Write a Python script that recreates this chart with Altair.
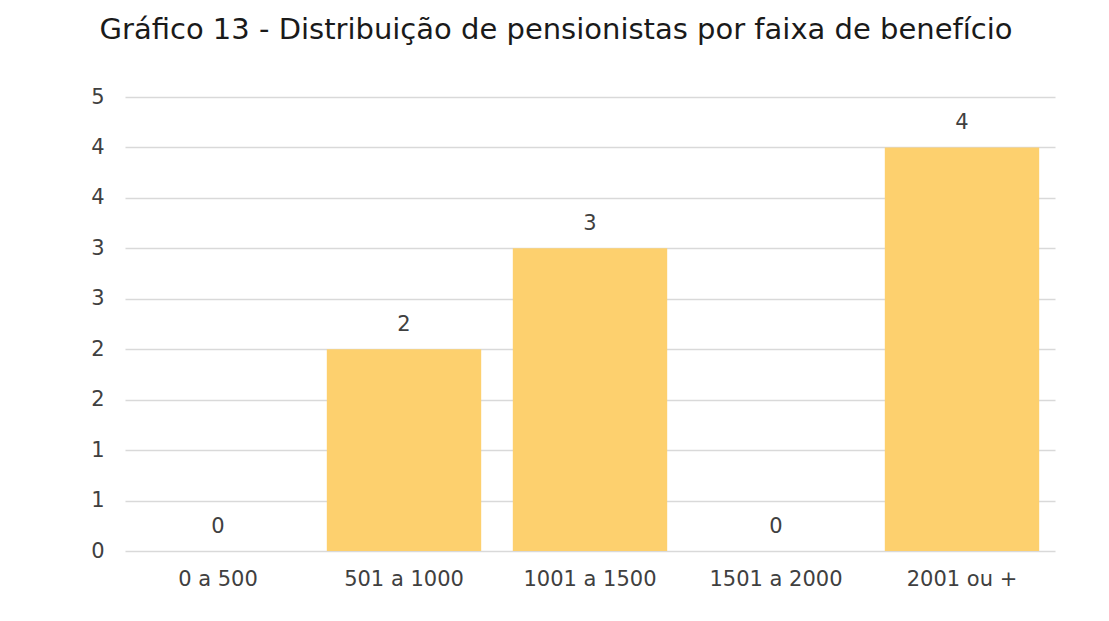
import altair as alt
import pandas as pd

categories = ["0 a 500", "501 a 1000", "1001 a 1500", "1501 a 2000", "2001 ou  +"]
values = [0, 2, 3, 0, 4]
y_ticks = [0, 0.5, 1, 1.5, 2, 2.5, 3, 3.5, 4, 4.5]

df = pd.DataFrame({"faixa": categories, "valor": values})

FONT = "DejaVu Sans"
TXT = "#404040"

x = alt.X("faixa:N", sort=categories, title=None,
          scale=alt.Scale(paddingInner=0.17, paddingOuter=0.085),
          axis=alt.Axis(labelAngle=0, labelFontSize=21, labelColor=TXT, labelFont=FONT,
                        ticks=False, domain=False, labelPadding=17, grid=False))
y = alt.Y("valor:Q", title=None,
          scale=alt.Scale(domain=[0, 4.5], nice=False),
          axis=alt.Axis(values=y_ticks, labelExpr="round(datum.value)", labelFontSize=21,
                        labelColor=TXT, labelFont=FONT, ticks=False, domain=False,
                        labelPadding=21, gridColor="#d9d9d9", gridWidth=1.5))

base = alt.Chart(df)
bars = base.mark_bar(color="#FDD06E").encode(x=x, y=y)
labels = base.mark_text(dy=-14, baseline="bottom", fontSize=21, font=FONT, color=TXT).encode(
    x=alt.X("faixa:N", sort=categories), y="valor:Q", text="valor:Q")

chart = (bars + labels).properties(
    width=930, height=454,
    padding={"left": 82, "top": 8, "right": 40, "bottom": 10},
    title=alt.TitleParams("Gráfico 13 -  Distribuição de pensionistas por faixa de benefício",
                          font=FONT, fontSize=29, fontWeight="normal", color="#1a1a1a",
                          anchor="middle", dx=-34, offset=41),
    background="white",
).configure_view(stroke=None)

chart.save("out.html", embed_options={"renderer": "svg", "actions": False})
